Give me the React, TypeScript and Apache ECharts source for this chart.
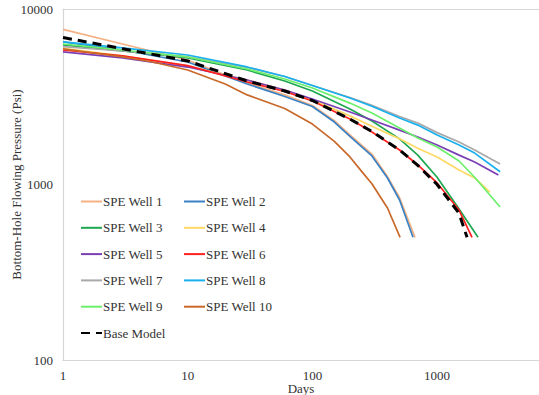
import React, { useEffect, useRef } from "react";
import * as echarts from "echarts";

const X_TICKS = [1, 10, 100, 1000];
const Y_TICKS = [100, 1000, 10000];

const NAMES = [
  "SPE Well 1", "SPE Well 2", "SPE Well 3", "SPE Well 4", "SPE Well 5",
  "SPE Well 6", "SPE Well 7", "SPE Well 8", "SPE Well 9", "SPE Well 10", "Base Model",
];

const DAYS_W1 = [1, 3, 10, 20, 30, 60, 100, 150, 200, 300, 400, 500, 665];
const PSI_W1 = [7660, 6320, 5120, 4200, 3790, 3240, 2820, 2310, 1920, 1490, 1110, 840, 500];
const DAYS_W2 = [1, 3, 10, 20, 30, 60, 100, 150, 200, 300, 400, 500, 641];
const PSI_W2 = [6500, 5840, 4990, 4150, 3740, 3170, 2780, 2270, 1880, 1454, 1089, 816, 500];
const DAYS_W3 = [1, 3, 10, 30, 60, 100, 200, 300, 500, 700, 1000, 1500, 2128];
const PSI_W3 = [6240, 5770, 5260, 4490, 3890, 3410, 2690, 2300, 1820, 1470, 1100, 725, 500];
const DAYS_W4 = [1, 3, 10, 30, 60, 100, 200, 300, 500, 700, 1000, 1500, 2000, 2650];
const PSI_W4 = [5970, 5400, 4735, 3940, 3455, 3030, 2460, 2150, 1820, 1610, 1435, 1210, 1090, 906];
const DAYS_W5 = [1, 3, 10, 30, 60, 100, 200, 300, 500, 700, 1000, 1500, 2000, 3100];
const PSI_W5 = [5700, 5260, 4670, 3940, 3455, 3070, 2590, 2330, 2040, 1865, 1680, 1470, 1345, 1133];
const DAYS_W6 = [1, 3, 10, 30, 60, 100, 200, 300, 500, 700, 1000, 1500, 1905];
const PSI_W6 = [5840, 5400, 4760, 3840, 3390, 2990, 2360, 1990, 1573, 1292, 1020, 715, 500];
const DAYS_W7 = [1, 3, 10, 30, 60, 100, 200, 300, 500, 700, 1000, 1500, 2000, 3200];
const PSI_W7 = [6100, 5765, 5330, 4640, 4125, 3665, 3130, 2830, 2440, 2240, 1975, 1747, 1573, 1310];
const DAYS_W8 = [1, 3, 10, 30, 60, 100, 200, 300, 500, 700, 1000, 1500, 2000, 3200];
const PSI_W8 = [6500, 6000, 5470, 4675, 4125, 3665, 3110, 2790, 2393, 2180, 1915, 1680, 1510, 1183];
const DAYS_W9 = [1, 3, 10, 30, 60, 100, 200, 300, 500, 700, 1000, 1500, 2000, 3200];
const PSI_W9 = [6320, 5840, 5330, 4550, 3990, 3550, 2910, 2555, 2100, 1840, 1636, 1361, 1100, 745];
const DAYS_W10 = [1, 3, 5, 10, 20, 30, 60, 100, 150, 200, 250, 300, 400, 505];
const PSI_W10 = [5920, 5330, 5020, 4490, 3740, 3240, 2710, 2210, 1760, 1435, 1180, 1010, 735, 500];
const DAYS_BASE = [1, 3, 10, 30, 60, 100, 200, 300, 500, 700, 1000, 1500, 1738];
const PSI_BASE = [6880, 5940, 5060, 3890, 3410, 3010, 2360, 2005, 1573, 1285, 1000, 685, 500];

const ALL_DAYS = [DAYS_W1, DAYS_W2, DAYS_W3, DAYS_W4, DAYS_W5, DAYS_W6, DAYS_W7, DAYS_W8, DAYS_W9, DAYS_W10, DAYS_BASE];
const ALL_PSI = [PSI_W1, PSI_W2, PSI_W3, PSI_W4, PSI_W5, PSI_W6, PSI_W7, PSI_W8, PSI_W9, PSI_W10, PSI_BASE];

const COLORS = [
  "#F4B183", "#3A82C4", "#1DA851", "#FFD966", "#7B3FB5",
  "#FF2020", "#A9A9A9", "#1AB0EE", "#6CF06C", "#C8692A", "#000000",
];

const X_MAX = 6563;
const FONT = "'Times New Roman', 'Liberation Serif', serif";
const TEXT = "#333333";
const AXIS = "#d6d6d6";

export default function App() {
  const ref = useRef<HTMLDivElement>(null);
  useEffect(() => {
    if (!ref.current) return;
    const chart = echarts.init(ref.current, null, { renderer: "svg" });
    const series = NAMES.map((name, i) => {
      const isBase = name === "Base Model";
      return {
        name,
        type: "line",
        xAxisIndex: 0,
        yAxisIndex: 0,
        symbol: "none",
        smooth: false,
        z: isBase ? 5 : 2,
        data: ALL_DAYS[i].map((d, j) => [d, ALL_PSI[i][j]]),
        lineStyle: {
          color: COLORS[i],
          width: isBase ? 3 : 1.7,
          type: isBase ? [9, 6] : "solid",
          join: "round",
        },
        itemStyle: { color: COLORS[i] },
      };
    });
    const legendBase = {
      orient: "vertical",
      top: 195,
      padding: 0,
      itemWidth: 21,
      itemHeight: 14,
      itemGap: 13.3,
      selectedMode: false,
      itemStyle: { opacity: 0 },
      textStyle: { fontFamily: FONT, fontSize: 13, color: TEXT, padding: [0, 0, 0, -4] },
    };
    chart.setOption({
      animation: false,
      grid: { left: 63, right: 0, top: 9, bottom: 35, containLabel: false, outerBoundsMode: "none" },
      legend: [
        { ...legendBase, left: 80, data: NAMES.filter((_, i) => i % 2 === 0) },
        { ...legendBase, left: 183, data: NAMES.filter((_, i) => i % 2 === 1) },
      ],
      xAxis: [
        {
          type: "log",
          logBase: 10,
          min: X_TICKS[0],
          max: X_MAX,
          name: "Days",
          nameLocation: "middle",
          nameGap: 21.5,
          nameMoveOverlap: false,
          nameTextStyle: { fontFamily: FONT, fontSize: 13, color: TEXT },
          axisLine: { show: true, lineStyle: { color: AXIS, width: 1.2 } },
          axisTick: { show: false },
          splitLine: { show: false },
          axisLabel: {
            fontFamily: FONT,
            fontSize: 13,
            color: TEXT,
            margin: 9,
            showMaxLabel: false,
            formatter: (v: number) => (X_TICKS.includes(Math.round(v)) ? String(Math.round(v)) : ""),
          },
        },
        {
          type: "log",
          logBase: 10,
          position: "top",
          min: X_TICKS[0],
          max: X_MAX,
          axisLine: { show: true, lineStyle: { color: AXIS, width: 1.2 } },
          axisTick: { show: false },
          axisLabel: { show: false },
          splitLine: { show: false },
        },
      ],
      yAxis: {
        type: "log",
        logBase: 10,
        min: Y_TICKS[0],
        max: Y_TICKS[Y_TICKS.length - 1],
        name: "Bottom-Hole Flowing Pressure (Psi)",
        nameLocation: "middle",
        nameGap: 40,
        nameMoveOverlap: false,
        nameTextStyle: { fontFamily: FONT, fontSize: 13, color: TEXT },
        axisLine: { show: true, lineStyle: { color: AXIS, width: 1.2 } },
        axisTick: { show: false },
        splitLine: { show: false },
        axisLabel: {
          fontFamily: FONT,
          fontSize: 13,
          color: TEXT,
          margin: 10,
          formatter: (v: number) => String(Math.round(v)),
        },
      },
      series,
    });
    return () => chart.dispose();
  }, []);
  return (
    <div
      ref={ref}
      style={{ position: "fixed", left: 0, top: 0, width: 539, height: 395, background: "#fff" }}
    />
  );
}
